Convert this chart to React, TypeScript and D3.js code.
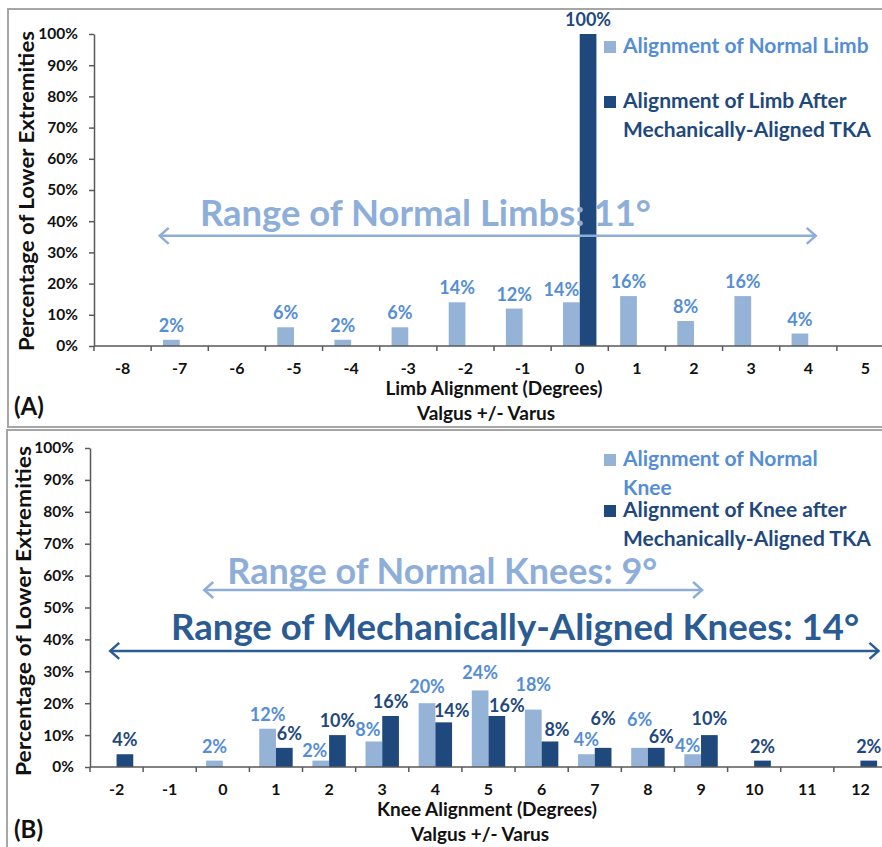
import React, { useRef, useEffect } from "react";
import * as d3 from "d3";

// panel A: limb alignment
const limbCats = ["-8", "-7", "-6", "-5", "-4", "-3", "-2", "-1", "0", "1", "2", "3", "4", "5"];
const limbNormal = [0, 2, 0, 6, 2, 6, 14, 12, 14, 16, 8, 16, 4, 0];
const limbTka = [0, 0, 0, 0, 0, 0, 0, 0, 100, 0, 0, 0, 0, 0];

// panel B: knee alignment
const kneeCats = ["-2", "-1", "0", "1", "2", "3", "4", "5", "6", "7", "8", "9", "10", "11", "12"];
const kneeNormal = [0, 0, 2, 12, 2, 8, 20, 24, 18, 4, 6, 4, 0, 0, 0];
const kneeTka = [4, 0, 0, 6, 10, 16, 14, 16, 8, 6, 6, 10, 2, 0, 2];

const yTicks = [0, 10, 20, 30, 40, 50, 60, 70, 80, 90, 100];

// hand-moved data labels (dx, dy in px), like in the original
const limbNudge: Record<string, [number, number]> = { "normal:0": [-10, 2] };
const kneeNudge: Record<string, [number, number]> = {
  "normal:2": [-6, 4],
  "normal:3": [-6, 3],
  "normal:4": [0, -2],
  "normal:5": [0, -3],
  "normal:6": [0, -11],
  "normal:8": [0, -14],
  "normal:9": [-5, 6],
  "tka:1": [5, 0],
  "tka:4": [8, 3],
  "tka:5": [10, 4],
  "tka:6": [7, 3],
  "tka:7": [0, -15],
  "tka:8": [5, 3],
  "tka:9": [0, -2],
};

const LIGHT = "#95B3D7";
const DARK = "#1F497D";
const LIGHT_TXT = "#558ED5";
const RANGE_LIGHT = "#8EAEDA";
const RANGE_DARK = "#2B5B93";
const FONT = "Lato, 'Open Sans', sans-serif";

const App: React.FC = () => {
  const ref = useRef<SVGSVGElement | null>(null);

  useEffect(() => {
    const svg = d3.select(ref.current);
    svg.selectAll("*").remove();

    const drawPanel = (cfg: any) => {
      const g = svg.append("g");
      // frame
      g.append("rect")
        .attr("x", cfg.frame[0])
        .attr("y", cfg.frame[1])
        .attr("width", 900)
        .attr("height", cfg.frame[2])
        .attr("fill", "white")
        .attr("stroke", "#A6A6A6")
        .attr("stroke-width", 2);

      const x = d3.scaleBand().domain(cfg.cats).range(cfg.xr).padding(0);
      const x1 = d3
        .scaleBand()
        .domain(["normal", "tka"])
        .range([0, x.bandwidth()])
        .paddingInner(0)
        .paddingOuter(cfg.pad);
      const y = d3.scaleLinear().domain([0, 100]).range(cfg.yr);
      // degree -> pixel, for annotations
      const deg = d3
        .scaleLinear()
        .domain([+cfg.cats[0], +cfg.cats[cfg.cats.length - 1]])
        .range([x(cfg.cats[0])! + x.bandwidth() / 2, x(cfg.cats[cfg.cats.length - 1])! + x.bandwidth() / 2]);

      // y axis
      const ya = g
        .append("g")
        .attr("transform", `translate(${cfg.xr[0]},0)`)
        .call(
          d3
            .axisLeft(y)
            .tickValues(yTicks)
            .tickFormat((d) => d + "%")
            .tickSize(5)
            .tickSizeOuter(0)
            .tickPadding(11)
        );
      ya.selectAll("path,line").attr("stroke", "#595959").attr("stroke-width", 1.5);
      ya.selectAll("text")
        .attr("font-family", FONT)
        .attr("font-weight", 700)
        .attr("font-size", 15.5)
        .attr("fill", "#111");

      g.append("text")
        .attr("transform", `translate(${cfg.ylab[0]},${cfg.ylab[1]}) rotate(-90)`)
        .attr("text-anchor", "middle")
        .attr("dy", "0.35em")
        .attr("font-family", FONT)
        .attr("font-weight", 700)
        .attr("font-size", 20)
        .attr("textLength", cfg.ylab[2])
        .attr("lengthAdjust", "spacingAndGlyphs")
        .attr("fill", "#111")
        .text("Percentage of Lower Extremities");

      // bars
      const series = [
        { key: "normal", vals: cfg.normal, fill: LIGHT, txt: LIGHT_TXT },
        { key: "tka", vals: cfg.tka, fill: DARK, txt: DARK },
      ];
      series.forEach((s) => {
        const data = cfg.cats
          .map((c: string, i: number) => ({ c, v: s.vals[i], n: cfg.nudge[s.key + ":" + c] || [0, 0] }))
          .filter((d: any) => d.v > 0);
        g.append("g")
          .selectAll("rect")
          .data(data)
          .enter()
          .append("rect")
          .attr("x", (d: any) => x(d.c)! + x1(s.key)!)
          .attr("y", (d: any) => y(d.v))
          .attr("width", x1.bandwidth())
          .attr("height", (d: any) => y(0) - y(d.v))
          .attr("fill", s.fill);
        g.append("g")
          .selectAll("text")
          .data(data)
          .enter()
          .append("text")
          .attr("x", (d: any) => x(d.c)! + x1(s.key)! + x1.bandwidth() / 2 + d.n[0])
          .attr("y", (d: any) => y(d.v) - 8 + d.n[1])
          .attr("text-anchor", "middle")
          .attr("font-family", FONT)
          .attr("font-weight", 700)
          .attr("font-size", 18)
          .attr("fill", s.txt)
          .text((d: any) => d.v + "%");
      });

      // x axis
      const y0 = y(0);
      g.append("line")
        .attr("x1", cfg.xr[0])
        .attr("x2", cfg.xr[1])
        .attr("y1", y0)
        .attr("y2", y0)
        .attr("stroke", "#595959")
        .attr("stroke-width", 1.5);
      g.append("g")
        .selectAll("line")
        .data(d3.range(cfg.cats.length + 1))
        .enter()
        .append("line")
        .attr("x1", (i) => cfg.xr[0] + i * x.step())
        .attr("x2", (i) => cfg.xr[0] + i * x.step())
        .attr("y1", y0)
        .attr("y2", y0 + 5)
        .attr("stroke", "#595959")
        .attr("stroke-width", 1.5);
      g.append("g")
        .selectAll("text")
        .data(cfg.cats)
        .enter()
        .append("text")
        .attr("x", (c: any) => x(c)! + x.bandwidth() / 2)
        .attr("y", y0 + 28)
        .attr("text-anchor", "middle")
        .attr("font-family", FONT)
        .attr("font-weight", 700)
        .attr("font-size", 16)
        .attr("fill", "#111")
        .text((c: any) => c);

      cfg.xtitle.forEach((t: string, i: number) => {
        g.append("text")
          .attr("x", cfg.xtitleX[i])
          .attr("y", y0 + 49 + i * 25)
          .attr("text-anchor", "middle")
          .attr("font-family", FONT)
          .attr("font-weight", 700)
          .attr("font-size", 19)
          .attr("fill", "#111")
          .text(t);
      });

      g.append("text")
        .attr("x", 14)
        .attr("y", cfg.tag[1])
        .attr("font-family", FONT)
        .attr("font-weight", 700)
        .attr("font-size", 24)
        .attr("fill", "#111")
        .text(cfg.tag[0]);

      // legend
      cfg.legend.forEach((l: any) => {
        g.append("rect")
          .attr("x", 604)
          .attr("y", l.y - 12)
          .attr("width", 12)
          .attr("height", 12)
          .attr("fill", l.fill);
        l.lines.forEach((t: string, i: number) => {
          g.append("text")
            .attr("x", 623)
            .attr("y", l.y + i * 29)
            .attr("font-family", FONT)
            .attr("font-weight", 700)
            .attr("font-size", 21)
            .attr("fill", l.color)
            .text(t);
        });
      });

      // range annotations
      cfg.ranges.forEach((r: any) => {
        const ay = y(r.level);
        const xa = deg(r.from);
        const xb = deg(r.to);
        g.append("line")
          .attr("x1", xa)
          .attr("x2", xb)
          .attr("y1", ay)
          .attr("y2", ay)
          .attr("stroke", r.color)
          .attr("stroke-width", 2.5);
        g.append("path")
          .attr(
            "d",
            `M${xa + 9},${ay - 8}L${xa},${ay}L${xa + 9},${ay + 8}M${xb - 9},${ay - 8}L${xb},${ay}L${xb - 9},${ay + 8}`
          )
          .attr("fill", "none")
          .attr("stroke", r.color)
          .attr("stroke-width", 2.5);
        g.append("text")
          .attr("x", deg(r.textAt))
          .attr("y", y(r.textLevel))
          .attr("text-anchor", "middle")
          .attr("font-family", FONT)
          .attr("font-weight", 700)
          .attr("font-size", 36)
          .attr("textLength", r.width)
          .attr("lengthAdjust", "spacingAndGlyphs")
          .attr("fill", r.color)
          .text(r.label);
      });
    };

    drawPanel({
      frame: [8, 9, 418],
      cats: limbCats,
      normal: limbNormal,
      tka: limbTka,
      nudge: limbNudge,
      xr: [94, 894],
      yr: [346, 34],
      pad: 0.71,
      ylab: [27, 191, 320],
      xtitle: ["Limb Alignment (Degrees)", "Valgus +/- Varus"],
      xtitleX: [494, 486],
      tag: ["(A)", 415],
      legend: [
        { y: 53, fill: LIGHT, color: LIGHT_TXT, lines: ["Alignment of Normal Limb"] },
        { y: 108, fill: DARK, color: DARK, lines: ["Alignment of Limb After", "Mechanically-Aligned TKA"] },
      ],
      ranges: [
        {
          label: "Range of Normal Limbs: 11°",
          from: -7.35,
          to: 4.13,
          level: 35.3,
          textAt: -2.7,
          textLevel: 38.5,
          width: 451,
          color: RANGE_LIGHT,
        },
      ],
    });

    drawPanel({
      frame: [7, 430, 440],
      cats: kneeCats,
      normal: kneeNormal,
      tka: kneeTka,
      nudge: kneeNudge,
      xr: [90, 887],
      yr: [767, 448],
      pad: 0.59,
      ylab: [24, 611, 330],
      xtitle: ["Knee Alignment (Degrees)", "Valgus +/- Varus"],
      xtitleX: [487, 480],
      tag: ["(B)", 838],
      legend: [
        { y: 466, fill: LIGHT, color: LIGHT_TXT, lines: ["Alignment of Normal", "Knee"] },
        { y: 517, fill: DARK, color: DARK, lines: ["Alignment of Knee after", "Mechanically-Aligned TKA"] },
      ],
      ranges: [
        {
          label: "Range of Normal Knees: 9°",
          from: -0.35,
          to: 9.02,
          level: 55.5,
          textAt: 4.13,
          textLevel: 57.5,
          width: 430,
          color: RANGE_LIGHT,
        },
        {
          label: "Range of Mechanically-Aligned Knees: 14°",
          from: -2.12,
          to: 12.34,
          level: 36.4,
          textAt: 5.5,
          textLevel: 39.8,
          width: 688,
          color: RANGE_DARK,
        },
      ],
    });
  }, []);

  return (
    <svg
      ref={ref}
      width={882}
      height={847}
      style={{ position: "absolute", left: 0, top: 0, background: "white" }}
    ></svg>
  );
};

export default App;
